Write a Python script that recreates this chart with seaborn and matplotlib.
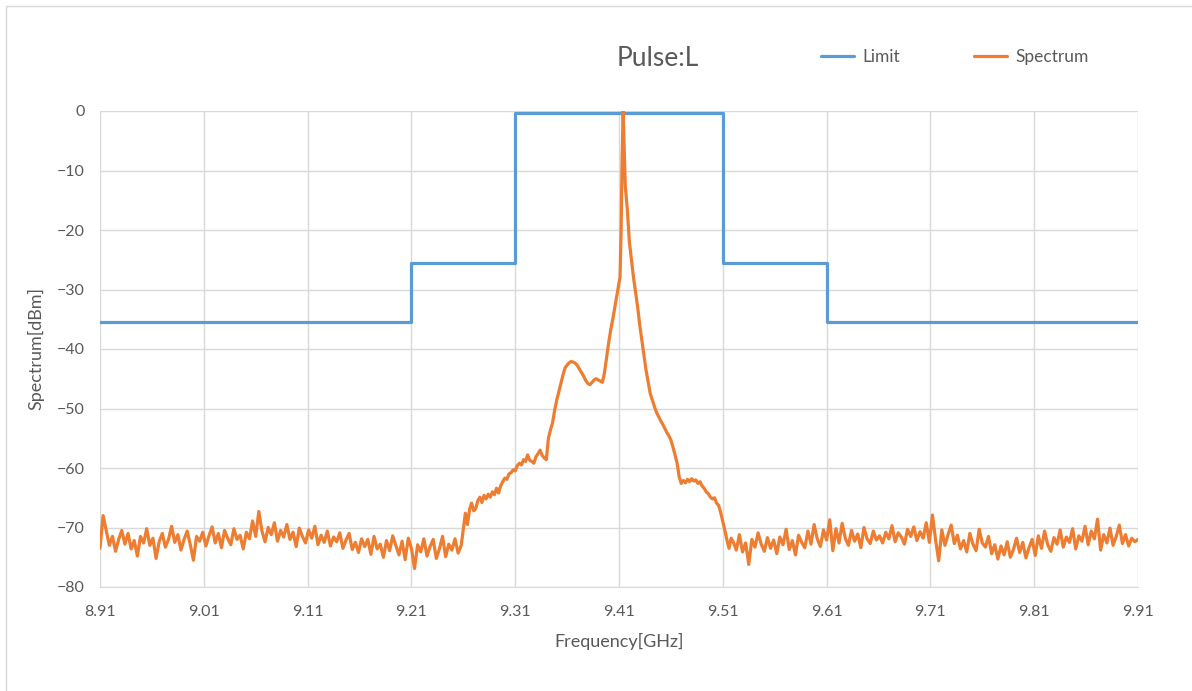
"""Pulse:L spectrum against its limit mask, Excel-like look."""

import matplotlib

matplotlib.use("Agg")

import matplotlib.pyplot as plt
import numpy as np
import pandas as pd
import seaborn as sns
from matplotlib.patches import Rectangle


TITLE = "Pulse:L"
X_LABEL = "Frequency[GHz]"
Y_LABEL = "Spectrum[dBm]"
X_TICKS = [8.91, 9.01, 9.11, 9.21, 9.31, 9.41, 9.51, 9.61, 9.71, 9.81, 9.91]
Y_TICKS = [0, -10, -20, -30, -40, -50, -60, -70, -80]

# limit mask (step edges)
limit_freq = [8.91, 9.21, 9.31, 9.51, 9.61, 9.91]
limit_dbm = [-35.5, -25.5, -0.4, -25.5, -35.5, -35.5]

# noise floor left of the carrier, 8.910 .. 9.258 GHz every 3 MHz
left_floor = [
    -73.5, -68.0, -70.5, -73.0, -71.5, -74.0, -72.0, -70.5, -72.8, -71.0, -73.6,
    -72.2, -74.8, -71.5, -72.6, -70.2, -73.0, -71.8, -75.2, -72.4, -71.0, -73.3, -72.0,
    -69.8, -72.5, -71.2, -73.8, -72.0, -70.6, -72.9, -75.5, -71.5, -72.3, -70.8, -73.1,
    -71.4, -69.9, -72.6, -71.0, -73.4, -70.5, -71.8, -72.9, -70.2, -72.0, -71.3, -73.6,
    -70.8, -71.9, -68.9, -71.5, -67.3, -70.6, -72.4, -70.0, -71.2, -69.2, -72.3, -70.5,
    -71.6, -69.5, -72.0, -70.8, -73.2, -70.1, -71.5, -72.6, -70.4, -71.8, -69.8, -72.9,
    -71.3, -72.5, -70.6, -73.1, -71.6, -72.4, -70.9, -73.5, -72.1, -71.0, -73.7, -72.5,
    -74.2, -71.9, -73.2, -72.0, -74.5, -71.5, -73.6, -72.8, -75.0, -72.2, -73.9, -71.4,
    -73.0, -74.6, -72.3, -75.4, -71.8, -73.5, -76.9, -72.9, -74.1, -71.9, -74.8, -73.2,
    -72.0, -75.2, -73.6, -71.5, -74.9, -72.8, -73.8, -71.9, -74.3, -73.0,
]

# carrier region 9.262 .. 9.518 GHz
mid_freq = [
    9.262, 9.264, 9.266, 9.268, 9.270, 9.272, 9.274, 9.276, 9.278, 9.280,
    9.282, 9.284, 9.286, 9.288, 9.290, 9.292, 9.294, 9.296, 9.298, 9.300,
    9.302, 9.304, 9.306, 9.308, 9.310, 9.312, 9.314, 9.316, 9.318, 9.320,
    9.322, 9.324, 9.326, 9.328, 9.330, 9.332, 9.334, 9.336, 9.338, 9.340,
    9.342, 9.344, 9.346, 9.348, 9.350, 9.352, 9.354, 9.356, 9.358, 9.360,
    9.362, 9.364, 9.366, 9.368, 9.370, 9.372, 9.374, 9.376, 9.378, 9.380,
    9.382, 9.384, 9.386, 9.388, 9.390, 9.392, 9.394, 9.396, 9.398, 9.400,
    9.402, 9.404, 9.406, 9.408, 9.410, 9.411, 9.412, 9.413, 9.414, 9.415,
    9.416, 9.418, 9.420, 9.422, 9.424, 9.426, 9.428, 9.430, 9.432, 9.434,
    9.436, 9.438, 9.440, 9.442, 9.444, 9.446, 9.448, 9.450, 9.452, 9.454,
    9.456, 9.458, 9.460, 9.462, 9.464, 9.466, 9.468, 9.470, 9.472, 9.474,
    9.476, 9.478, 9.480, 9.482, 9.484, 9.486, 9.488, 9.490, 9.492, 9.494,
    9.496, 9.498, 9.500, 9.502, 9.504, 9.506, 9.508, 9.510, 9.512, 9.514,
    9.516, 9.518,
]
mid_dbm = [
    -67.6, -69.5, -67.0, -65.9, -67.2, -66.8, -65.5, -64.9, -65.8, -64.6,
    -65.2, -64.4, -64.9, -64.0, -64.5, -63.4, -64.2, -63.0, -62.3, -61.7,
    -61.9, -61.0, -60.8, -60.3, -60.5, -59.6, -59.2, -59.5, -58.6, -58.9,
    -57.8, -58.7, -58.9, -59.2, -58.1, -57.6, -57.0, -57.9, -58.3, -58.6,
    -55.0, -53.6, -52.4, -50.3, -48.6, -47.2, -45.8, -44.4, -43.2, -42.7,
    -42.3, -42.1, -42.2, -42.4, -42.8, -43.4, -44.0, -44.6, -45.3, -45.8,
    -46.0, -45.6, -45.2, -45.0, -45.2, -45.4, -45.6, -44.0, -41.5, -39.0,
    -36.8, -35.0, -33.0, -31.0, -29.0, -27.9, -20.5, -8.0, 0.0, -6.0,
    -12.5, -16.5, -22.0, -25.0, -28.0, -30.5, -33.0, -36.0, -38.5, -41.0,
    -43.5, -45.5, -47.4, -48.5, -49.6, -50.6, -51.3, -52.0, -52.6, -53.3,
    -54.0, -54.6, -55.3, -56.5, -57.8, -59.2, -61.5, -62.6, -62.1, -62.5,
    -61.9, -62.3, -61.8, -62.2, -62.0, -62.6, -62.3, -63.0, -63.4, -64.0,
    -64.3, -64.9, -65.2, -65.0, -65.9, -66.3, -67.5, -69.0, -70.5, -72.1,
    -73.5, -71.8,
]

# noise floor right of the carrier, 9.520 .. 9.910 GHz every 3 MHz
right_floor = [
    -72.4, -73.8, -71.2, -74.1, -72.6, -76.2, -72.0, -73.3, -70.9, -72.8, -74.0, -71.7,
    -73.5, -72.1, -74.4, -71.6, -72.9, -70.3, -73.7, -72.2, -74.6, -71.3, -72.5, -73.4,
    -70.6, -72.8, -69.5, -71.9, -73.2, -70.4, -72.1, -68.7, -73.9, -70.2, -72.6, -69.3,
    -71.8, -73.0, -70.5, -72.3, -71.1, -73.4, -70.0, -71.9, -72.7, -70.6, -72.1, -71.4,
    -72.6, -70.8, -71.9, -69.7, -72.4, -70.9, -71.6, -72.8, -70.3, -71.5, -69.9, -72.2,
    -70.7, -71.8, -69.2, -72.5, -67.9, -72.1, -75.6, -70.4, -73.0, -71.2, -69.6, -72.7,
    -71.3, -73.6, -72.2, -74.1, -71.0, -72.8, -73.9, -70.3, -72.6, -73.3, -71.5, -74.4,
    -72.9, -75.3, -73.1, -74.6, -72.4, -75.0, -73.7, -71.8, -74.2, -72.5, -75.1, -73.4,
    -72.0, -74.7, -71.4, -73.5, -70.6, -72.9, -74.0, -71.7, -72.8, -70.4, -73.3, -71.6,
    -72.5, -70.2, -73.6, -71.4, -72.3, -69.8, -72.9, -70.6, -71.9, -68.6, -73.8, -71.2,
    -72.6, -70.1, -73.0, -71.5, -69.6, -72.7, -71.2, -73.1, -71.8, -72.4, -72.0,
]

LIMIT_COLOR = "#5B9BD5"
SPECTRUM_COLOR = "#ED7D31"
TEXT_COLOR = "#595959"
GRID_COLOR = "#D9D9D9"


def build_spectrum() -> pd.DataFrame:
    """Join the three hand-read spectrum pieces into one frame."""
    left_freq = np.linspace(8.910, 9.258, len(left_floor))
    right_freq = np.linspace(9.520, 9.910, len(right_floor))
    freq = np.concatenate([left_freq, mid_freq, right_freq])
    dbm = np.concatenate([left_floor, mid_dbm, right_floor])
    return pd.DataFrame({"freq": freq, "dbm": dbm})


sns.set_style("white")
plt.rcParams["font.family"] = ["Lato", "DejaVu Sans"]

fig = plt.figure(figsize=(11.92, 6.91), dpi=100)
ax = fig.add_axes([100 / 1192, 1 - 587 / 691, 1038 / 1192, 476 / 691])

limit_df = pd.DataFrame({"freq": limit_freq, "dbm": limit_dbm})
spectrum_df = build_spectrum()

sns.lineplot(data=limit_df, x="freq", y="dbm", ax=ax, color=LIMIT_COLOR,
             linewidth=2.3, estimator=None, sort=False,
             drawstyle="steps-post", label="Limit", zorder=3)
sns.lineplot(data=spectrum_df, x="freq", y="dbm", ax=ax, color=SPECTRUM_COLOR,
             linewidth=2.3, estimator=None, sort=False, label="Spectrum",
             zorder=4)

ax.set_xlim(8.91, 9.91)
ax.set_ylim(-80, 0)
ax.set_xticks(X_TICKS)
ax.set_xticklabels([f"{t:.2f}" for t in X_TICKS])
ax.set_yticks(Y_TICKS)
ax.grid(True, color=GRID_COLOR, linewidth=1.0)
ax.set_axisbelow(True)
for side in ["top", "right", "left"]:
    ax.spines[side].set_visible(False)
ax.spines["bottom"].set_color(GRID_COLOR)
ax.tick_params(axis="both", length=0, labelsize=11.5, labelcolor=TEXT_COLOR)
ax.tick_params(axis="x", pad=13)
ax.tick_params(axis="y", pad=11)

ax.set_xlabel(X_LABEL, fontsize=13, color=TEXT_COLOR, labelpad=10)
ax.set_ylabel(Y_LABEL, fontsize=13, color=TEXT_COLOR, labelpad=9)

fig.text(658 / 1192, 1 - 58 / 691, TITLE, fontsize=19, color=TEXT_COLOR,
         ha="center", va="center")

handles, labels = ax.get_legend_handles_labels()
ax.get_legend().remove()
fig.legend(handles, labels, loc="center", bbox_to_anchor=(955 / 1192, 1 - 57 / 691),
           ncol=2, frameon=False, fontsize=12.5, labelcolor=TEXT_COLOR,
           handlelength=1.9, handletextpad=0.45, columnspacing=4.3)

# thin outer chart border, as in the source sheet
fig.patches.append(Rectangle((6 / 1192, -0.05), 1.1, 1 - 6 / 691 + 0.05,
                             transform=fig.transFigure, fill=False,
                             edgecolor=GRID_COLOR, linewidth=1.0))

fig.savefig("out.png", dpi=100)
